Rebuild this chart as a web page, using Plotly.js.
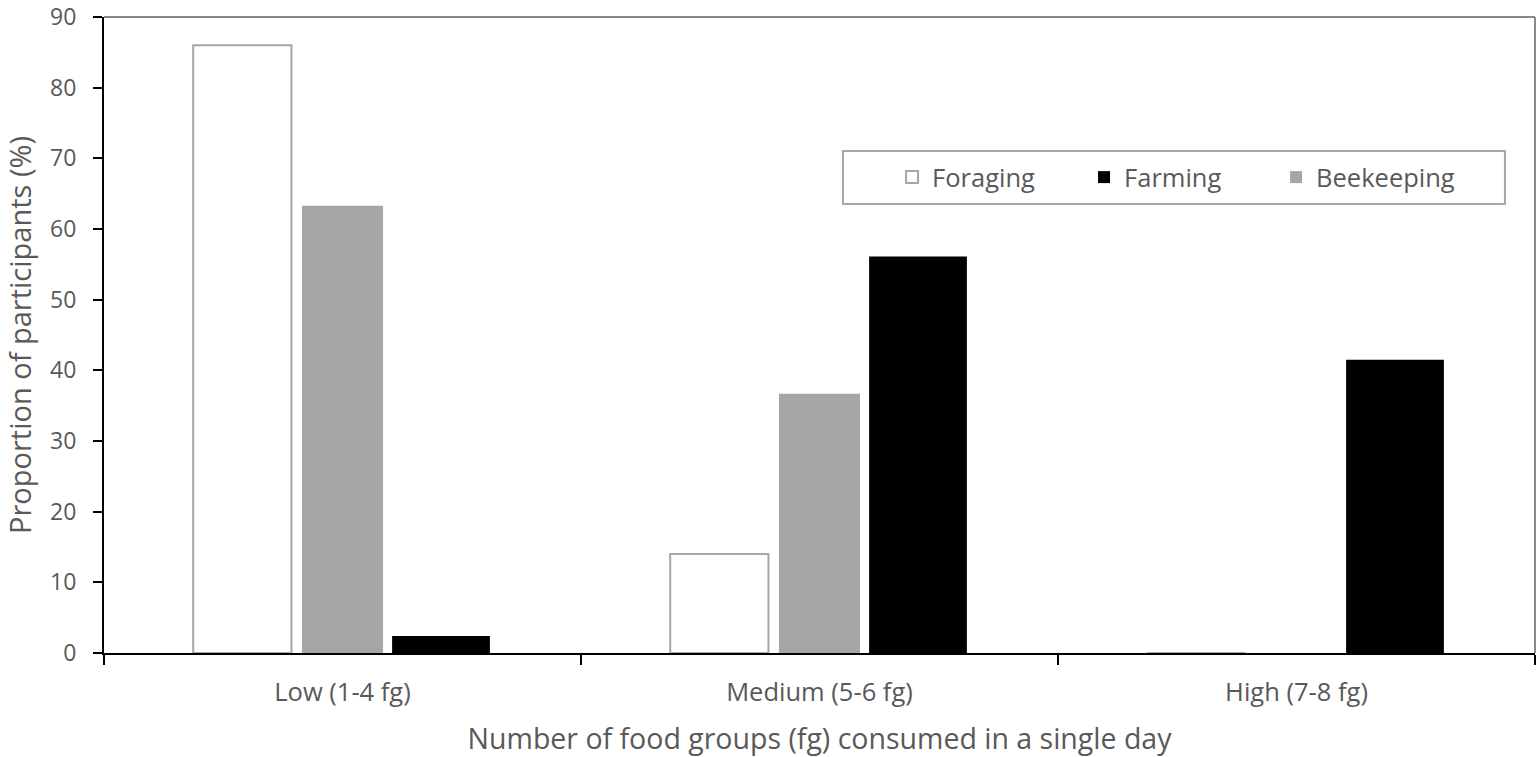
<!DOCTYPE html>
<html>
<head>
<meta charset="utf-8">
<script src="https://cdn.plot.ly/plotly-3.0.1.min.js"></script>
<style>
  html, body { margin: 0; padding: 0; background: #ffffff; }
  #chart { width: 1536px; height: 757px; }
</style>
</head>
<body>
<div id="chart"></div>
<script>
const categories = ["Low (1-4 fg)", "Medium (5-6 fg)", "High (7-8 fg)"];
const foraging = [86.0, 14.0, 0];
const beekeeping = [63.3, 36.7, 0];
const farming = [2.4, 56.1, 41.5];
const yTickValues = [0, 10, 20, 30, 40, 50, 60, 70, 80, 90];

const FONT = "'Open Sans', 'Noto Sans', sans-serif";
const TEXT = "#595959";

const traces = [
  {
    type: "bar", name: "Foraging", x: categories, y: foraging,
    offset: -0.313, width: 0.206,
    marker: { color: "#ffffff", line: { color: "#a6a6a6", width: 2 } },
    legendrank: 1, hoverinfo: "skip"
  },
  {
    type: "bar", name: "Beekeeping", x: categories, y: beekeeping,
    offset: -0.085, width: 0.170,
    marker: { color: "#a6a6a6", line: { width: 0 } },
    legendrank: 3, hoverinfo: "skip"
  },
  {
    type: "bar", name: "Farming", x: categories, y: farming,
    offset: 0.104, width: 0.205,
    marker: { color: "#000000", line: { width: 0 } },
    legendrank: 2, hoverinfo: "skip"
  }
];

const layout = {
  width: 1536, height: 757,
  margin: { l: 104, r: 1, t: 17, b: 104, pad: 0 },
  paper_bgcolor: "#ffffff", plot_bgcolor: "#ffffff",
  font: { family: FONT, color: TEXT, size: 24 },
  barmode: "overlay",
  showlegend: true,
  legend: {
    orientation: "h",
    x: 0.5507, xanchor: "left",
    y: 0.7476, yanchor: "middle",
    bgcolor: "rgba(0,0,0,0)", borderwidth: 0,
    font: { family: FONT, color: TEXT, size: 25.5 },
    entrywidth: 147, entrywidthmode: "pixels",
    traceorder: "normal"
  },
  xaxis: {
    type: "category",
    range: [-0.5, 2.5],
    tickson: "boundaries",
    ticks: "outside", ticklen: 10, tickwidth: 2, tickcolor: "#000000",
    showline: true, linecolor: "#000000", linewidth: 2,
    showgrid: false, zeroline: false,
    ticklabelstandoff: 15,
    ticklabeloverflow: "allow",
    tickfont: { family: FONT, color: TEXT, size: 25.5 },
    title: { text: "Number of food groups (fg) consumed in a single day", standoff: 24,
             font: { family: FONT, color: TEXT, size: 28.5 } },
    fixedrange: true
  },
  yaxis: {
    range: [0, 90],
    tickvals: yTickValues,
    ticks: "outside", ticklen: 9, tickwidth: 2, tickcolor: "#000000",
    showline: true, linecolor: "#000000", linewidth: 2,
    showgrid: false, zeroline: false,
    ticklabelstandoff: 12,
    ticklabeloverflow: "allow",
    tickfont: { family: FONT, color: TEXT, size: 23 },
    title: { text: "Proportion of participants (%)", standoff: 11,
             font: { family: FONT, color: TEXT, size: 29 } },
    fixedrange: true
  },
  shapes: [
    { type: "line", xref: "paper", yref: "paper", x0: 0, x1: 1, y0: 1, y1: 1,
      line: { color: "#898989", width: 2 } },
    { type: "line", xref: "paper", yref: "paper", x0: 1, x1: 1, y0: 0, y1: 1,
      line: { color: "#898989", width: 2 } },
    { type: "rect", xref: "paper", yref: "paper", x0: 0.5164, x1: 0.979, y0: 0.706, y1: 0.7893,
      line: { color: "#a6a6a6", width: 2 }, fillcolor: "rgba(0,0,0,0)" }
  ]
};

Plotly.newPlot("chart", traces, layout, { staticPlot: true, displayModeBar: false });
</script>
</body>
</html>
